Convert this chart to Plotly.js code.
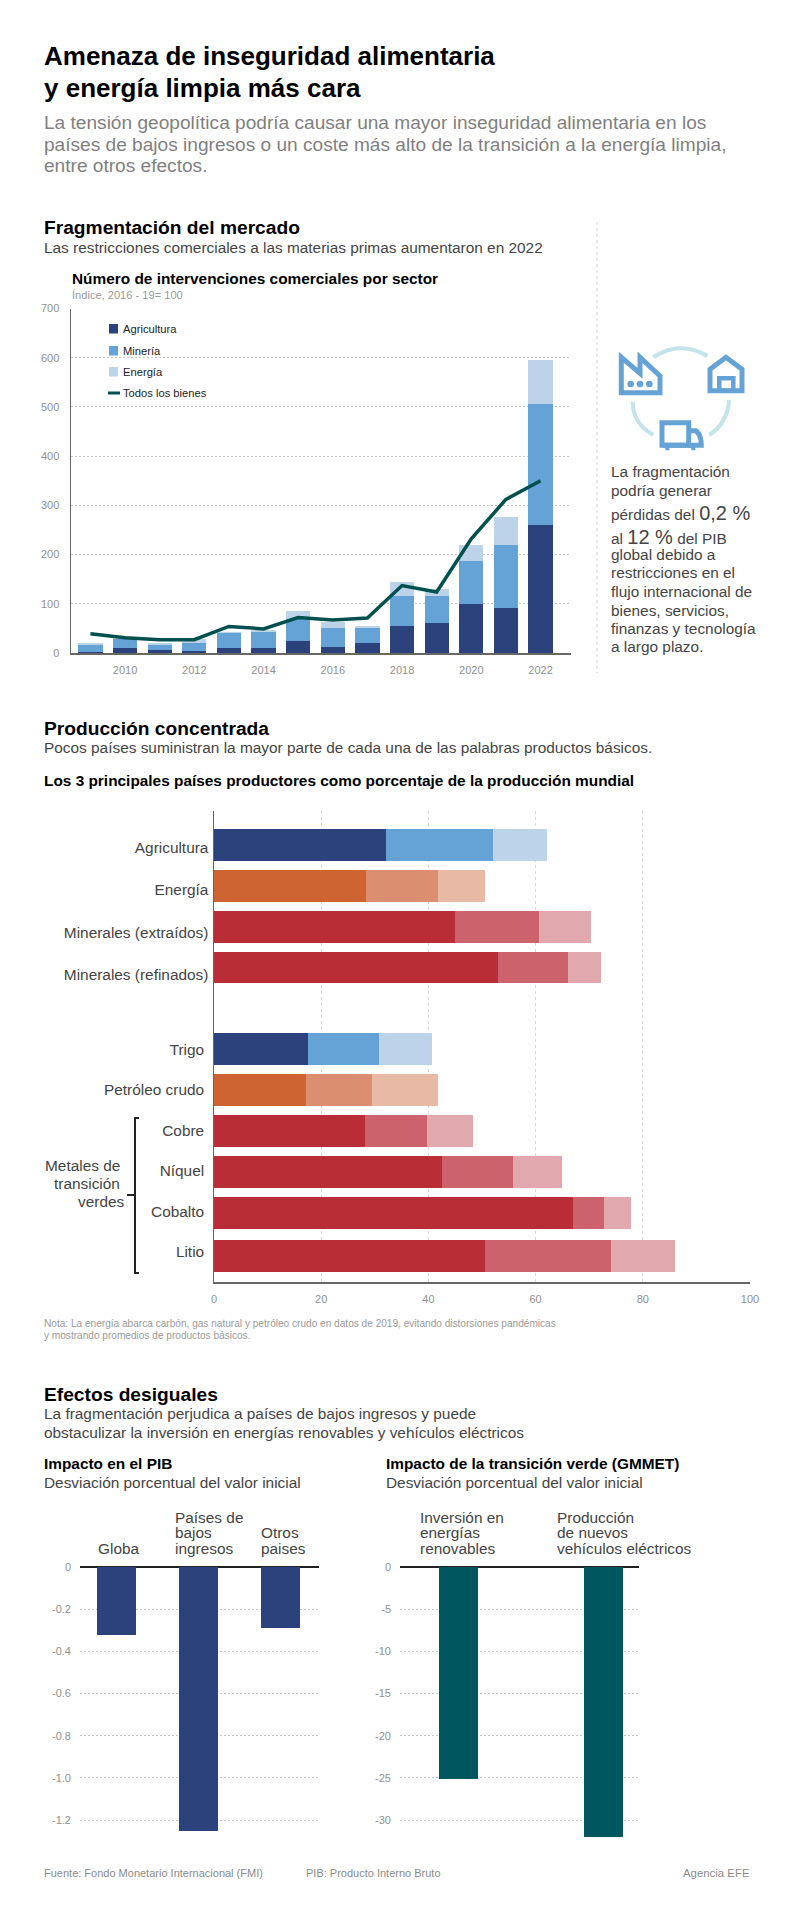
<!DOCTYPE html>
<html><head><meta charset="utf-8">
<script src="https://cdn.plot.ly/plotly-3.0.1.min.js"></script>
<style>html,body{margin:0;padding:0;background:#fff}#c{width:798px;height:1920px}</style></head>
<body><div id="c"></div>
<script>
// ---- Data: trade interventions
const years=[2009,2010,2011,2012,2013,2014,2015,2016,2017,2018,2019,2020,2021,2022];
const agricultura=[3,10,7,5,10,10,24,13,20,54,61,100,91,261];
const mineria=[13,18,10,15,30,33,45,37,31,61,54,86,128,244];
const energia=[4,2,3,8,3,4,16,12,3,29,15,34,57,90];
const todosBienes=[39,31,27,27,54,49,72,67,71,137,124,232,312,350];
// ---- Data: top 3 producers
const productos=['Agricultura','Energía','Minerales (extraídos)','Minerales (refinados)','Trigo','Petróleo crudo','Cobre','Níquel','Cobalto','Litio'];
const filas=[0,1,2,3,5,6,7,8,9,10.06];
const filasEtiqueta=[0.06,1.10,2.14,3.18,5.02,6,7,7.98,8.98,9.96];
const primero=[32.1,28.4,45,52.9,17.5,17.1,28.1,42.5,67,50.5];
const segundo=[19.9,13.4,15.6,13.2,13.3,12.3,11.7,13.3,5.8,23.5];
const tercero=[10.1,8.7,9.7,6.1,9.8,12.4,8.6,9.2,5,12];
const grupoColor=['azul','naranja','rojo','rojo','azul','naranja','rojo','rojo','rojo','rojo'];
// ---- Data: impacts
const pibCats=['Globa','Países de bajos ingresos','Otros paises'];
const pibVals=[-0.323,-1.25,-0.29];
const verdeCats=['Inversión en energías renovables','Producción de nuevos vehículos eléctricos'];
const verdeVals=[-25.1,-32];
const pibTicks=[0,-0.2,-0.4,-0.6,-0.8,-1.0,-1.2];
const pibTickText=['0','-0.2','-0.4','-0.6','-0.8','-1.0','-1.2'];
const verdeTicks=[0,-5,-10,-15,-20,-25,-30];
const verdeTickText=['0','-5','-10','-15','-20','-25','-30'];

const W=798,H=1920,FONT='"Liberation Sans", Arial, sans-serif';
const NAVY='#2c427c',BLUE='#65a3d6',LBLUE='#bcd3e9',TEAL='#00565f',LINE='#00504f';
const PAL={azul:[NAVY,BLUE,LBLUE],naranja:['#cd6431','#dc8f70','#e8baa5'],rojo:['#b92e36','#cc626b','#e1a9ae']};
const px=x=>x/W, py=y=>1-y/H;
const dom=(a,b)=>[a/W,b/W], domY=(t,b)=>[1-b/H,1-t/H];

const anns=[],shapes=[];
function T(x,base,text,size,color,bold,anchor){
  anns.push({xref:'paper',yref:'paper',x:px(x),y:py(base-0.3465*size),text:bold?'<b>'+text+'</b>':text,
    showarrow:false,xanchor:anchor||'left',yanchor:'middle',align:anchor||'left',borderpad:0,borderwidth:0,
    font:{family:FONT,size:size,color:color}});
}
function P(pts){
  return pts.replace(/(-?\d+\.?\d*),(-?\d+\.?\d*)/g,(m,a,b)=>px(+a).toFixed(6)+','+py(+b).toFixed(6));
}
function S(path,color,width,fill){
  shapes.push({type:'path',xref:'paper',yref:'paper',path:P(path),line:{color:color,width:width},fillcolor:fill||'rgba(0,0,0,0)',layer:'above'});
}
function L(x0,y0,x1,y1,color,width,dash){
  shapes.push({type:'line',xref:'paper',yref:'paper',x0:px(x0),y0:py(y0),x1:px(x1),y1:py(y1),line:{color:color,width:width,dash:dash||'solid'}});
}
function R(x0,y0,x1,y1,color,kind){
  shapes.push({type:kind||'rect',xref:'paper',yref:'paper',x0:px(x0),y0:py(y0),x1:px(x1),y1:py(y1),line:{width:0},fillcolor:color,layer:'above'});
}
const BLACK='#000',GREY='#7f7f7f',DK='#444',LG='#999',BODY=15.4,HEAD=19.2;
// header
T(44,65,'Amenaza de inseguridad alimentaria',26,BLACK,true);
T(44,97,'y energía limpia más cara',26,BLACK,true);
T(44,129,'La tensión geopolítica podría causar una mayor inseguridad alimentaria en los',19.1,GREY);
T(44,151,'países de bajos ingresos o un coste más alto de la transición a la energía limpia,',19.1,GREY);
T(44,172,'entre otros efectos.',19.1,GREY);
// section 1
T(44,234,'Fragmentación del mercado',HEAD,BLACK,true);
T(44,253,'Las restricciones comerciales a las materias primas aumentaron en 2022',BODY,DK);
T(72,284,'Número de intervenciones comerciales por sector',BODY,BLACK,true);
T(72,299,'Índice, 2016 - 19= 100',11.1,LG);
// hand legend
[['Agricultura',NAVY,329],['Minería',BLUE,351],['Energía',LBLUE,372]].forEach(d=>{
  R(109,d[2]-5,118,d[2]+4.5,d[1]);T(123,d[2]+4,d[0],11.2,'#222');
});
L(108,393,120,393,LINE,3);T(123,397,'Todos los bienes',11.2,'#222');
// side panel
L(597,222,597,673,'#d0d0d0',1,'3px,3px');
const bl='#65a3d6',ar='#c5e3ea';
const z=(x,y)=>(590+x/3).toFixed(1)+','+(320+y/3).toFixed(1);
S('M'+z(190,112)+' Q'+z(270,60)+' '+z(352,108),ar,4);
S('M'+z(128,245)+' Q'+z(128,310)+' '+z(190,345),ar,4);
S('M'+z(418,240)+' Q'+z(412,310)+' '+z(358,345),ar,4);
S('M'+z(94,218)+' L'+z(94,112)+' L'+z(150,160)+' L'+z(150,112)+' L'+z(210,168)+' L'+z(210,218)+' Z',bl,5,'#fff');
[122,150,178].forEach(c=>R(590+(c-10)/3,320+182/3,590+(c+10)/3,320+202/3,bl,'circle'));
S('M'+z(360,212)+' L'+z(360,148)+' L'+z(408,112)+' L'+z(456,148)+' L'+z(456,212)+' Z',bl,5,'#fff');
S('M'+z(388,212)+' L'+z(388,175)+' L'+z(430,175)+' L'+z(430,212)+' Z',bl,4.5);
S('M'+z(216,376)+' L'+z(216,308)+' L'+z(296,308)+' L'+z(296,376)+' Z',bl,5,'#fff');
S('M'+z(296,332)+' L'+z(318,332)+' Q'+z(334,345)+' '+z(334,376)+' L'+z(216,376),bl,5);
S('M'+z(226,383)+' L'+z(238,383)+' M'+z(304,383)+' L'+z(316,383),bl,5);
[['La fragmentación',477],['podría generar',496],['pérdidas del <span style="font-size:20px">0,2 %</span>',518],
 ['al <span style="font-size:20px">12 %</span> del PIB',542],['global debido a',560],['restricciones en el',578],
 ['flujo internacional de',597],['bienes, servicios,',616],['finanzas y tecnología',634],['a largo plazo.',652]
].forEach(d=>T(611,d[1],d[0],BODY,DK));
// section 2
T(44,735,'Producción concentrada',HEAD,BLACK,true);
T(44,753,'Pocos países suministran la mayor parte de cada una de las palabras productos básicos.',BODY,DK);
T(44,786,'Los 3 principales países productores como porcentaje de la producción mundial',BODY,BLACK,true);
T(119.5,1171,'Metales de',BODY,DK,false,'right');
T(119.5,1189,'transición',BODY,DK,false,'right');
T(123.5,1207,'verdes',BODY,DK,false,'right');
S('M139,1118 L135,1118 L135,1273 L139,1273','#222',2);
L(127,1195,135,1195,'#222',2);
T(44,1327,'Nota: La energía abarca carbón, gas natural y petróleo crudo en datos de 2019, evitando distorsiones pandémicas',10.1,LG);
T(44,1339,'y mostrando promedios de productos básicos.',10.1,LG);
// section 3
T(44,1401,'Efectos desiguales',HEAD,BLACK,true);
T(44,1419,'La fragmentación perjudica a países de bajos ingresos y puede',BODY,DK);
T(44,1438,'obstaculizar la inversión en energías renovables y vehículos eléctricos',BODY,DK);
T(44,1469,'Impacto en el PIB',BODY,BLACK,true);
T(44,1488,'Desviación porcentual del valor inicial',BODY,DK);
T(386,1469,'Impacto de la transición verde (GMMET)',BODY,BLACK,true);
T(386,1488,'Desviación porcentual del valor inicial',BODY,DK);
T(98,1554,'Globa',BODY,DK);
T(175,1523,'Países de',BODY,DK);T(175,1538,'bajos',BODY,DK);T(175,1554,'ingresos',BODY,DK);
T(261,1538,'Otros',BODY,DK);T(261,1554,'paises',BODY,DK);
T(420,1523,'Inversión en',BODY,DK);T(420,1538,'energías',BODY,DK);T(420,1554,'renovables',BODY,DK);
T(557,1523,'Producción',BODY,DK);T(557,1538,'de nuevos',BODY,DK);T(557,1554,'vehículos eléctricos',BODY,DK);
// footer
T(44,1877,'Fuente: Fondo Monetario Internacional (FMI)',11,'#8a8a8a');
T(306,1877,'PIB: Producto Interno Bruto',11,'#8a8a8a');
T(683,1877,'Agencia EFE',11.4,'#8a8a8a');

const tf={family:FONT,size:11,color:'#8f8f8f'};
const traces=[
 {type:'bar',x:years,y:agricultura,marker:{color:NAVY},name:'Agricultura',width:0.7,xaxis:'x',yaxis:'y'},
 {type:'bar',x:years,y:mineria,marker:{color:BLUE},name:'Minería',width:0.7,xaxis:'x',yaxis:'y'},
 {type:'bar',x:years,y:energia,marker:{color:LBLUE},name:'Energía',width:0.7,xaxis:'x',yaxis:'y'},
 {type:'scatter',mode:'lines',x:years,y:todosBienes,line:{color:LINE,width:3.5},name:'Todos los bienes',xaxis:'x',yaxis:'y'},
];
[primero,segundo,tercero].forEach((vals,k)=>traces.push({type:'bar',orientation:'h',x:vals,y:filas,width:0.78,
  marker:{color:grupoColor.map(g=>PAL[g][k])},xaxis:'x2',yaxis:'y2',name:'Productor '+(k+1)}));
traces.push({type:'bar',x:pibCats,y:pibVals,width:0.476,marker:{color:NAVY},xaxis:'x3',yaxis:'y3',name:'PIB'});
traces.push({type:'bar',x:verdeCats,y:verdeVals,width:0.269,marker:{color:TEAL},xaxis:'x4',yaxis:'y4',name:'GMMET'});

const grid={showgrid:true,gridcolor:'#c4c4c4',griddash:'2px,2px',gridwidth:1};
const layout={
 width:W,height:H,margin:{l:0,r:0,t:0,b:0,pad:0},paper_bgcolor:'#fff',plot_bgcolor:'rgba(0,0,0,0)',
 barmode:'stack',showlegend:false,hovermode:false,font:{family:FONT},annotations:anns,shapes:shapes,
 xaxis:{domain:dom(71,571),range:[2008.44,2022.88],anchor:'y',tickvals:[2010,2012,2014,2016,2018,2020,2022],
   showgrid:false,zeroline:false,tickfont:tf,ticks:'',ticklabelstandoff:6,showline:true,linecolor:'#666',linewidth:2},
 yaxis:Object.assign({domain:domY(308.5,653),range:[0,700],anchor:'x',tickvals:[0,100,200,300,400,500,600,700],
   zeroline:false,tickfont:tf,ticks:'',ticklabelstandoff:8,showline:true,linecolor:'#666',linewidth:1.5},grid),
 xaxis2:{domain:dom(214,750),range:[0,100],anchor:'y2',dtick:20,tick0:0,showgrid:true,gridcolor:'#d8d8d8',griddash:'3px,3px',gridwidth:1,
   zeroline:false,tickfont:tf,ticks:'',ticklabelstandoff:6,showline:true,linecolor:'#666',linewidth:2},
 yaxis2:{domain:domY(811,1282),range:[10.70,-0.832],anchor:'x2',tickvals:filasEtiqueta,
   ticktext:productos.map((p,i)=>i>=4?p+'\u00a0':p),showgrid:false,zeroline:false,
   tickfont:{family:FONT,size:BODY,color:DK},ticks:'',ticklabelstandoff:1,showline:true,linecolor:'#666',linewidth:1.5},
 xaxis3:{domain:dom(80,319),type:'category',range:[-0.445,2.47],anchor:'y3',showticklabels:false,showgrid:false,zeroline:false,ticks:''},
 yaxis3:Object.assign({domain:domY(1557,1840),range:[-1.294,0.047],anchor:'x3',tickvals:pibTicks,ticktext:pibTickText,
   tickfont:tf,ticks:'',ticklabelstandoff:8,zeroline:true,zerolinecolor:'#222',zerolinewidth:2},grid),
 xaxis4:{domain:dom(400,639),type:'category',range:[-0.403,1.245],anchor:'y4',showticklabels:false,showgrid:false,zeroline:false,ticks:''},
 yaxis4:Object.assign({domain:domY(1557,1840),range:[-32.35,1.185],anchor:'x4',tickvals:verdeTicks,ticktext:verdeTickText,
   tickfont:tf,ticks:'',ticklabelstandoff:8,zeroline:true,zerolinecolor:'#222',zerolinewidth:2},grid),
};
Plotly.newPlot('c',traces,layout,{displayModeBar:false,staticPlot:true});
</script></body></html>
